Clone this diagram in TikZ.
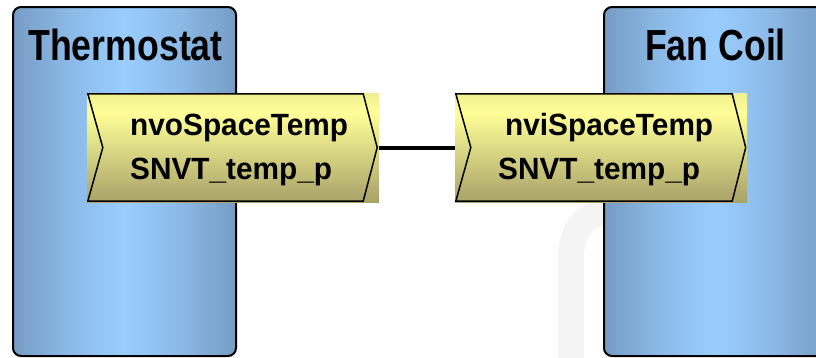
\documentclass[tikz,border=0pt]{standalone}
\usepackage{fontspec}
\setmainfont{Liberation Sans}
\newfontfamily\headfont[FakeStretch=0.82]{Liberation Sans}
\newfontfamily\tagfont[FakeStretch=0.97]{Liberation Sans}
\usetikzlibrary{calc}

% steel-blue column: dark edges, light centre
\definecolor{coldark}{RGB}{90,120,150}
\definecolor{colmid}{RGB}{110,145,182}
\definecolor{colhi}{RGB}{140,186,232}
\definecolor{collight}{RGB}{153,206,255}
\pgfdeclarehorizontalshading{columnshade}{100bp}{%
  color(0bp)=(coldark); color(20bp)=(colmid); color(38bp)=(colhi);
  color(50bp)=(collight); color(62bp)=(colhi); color(80bp)=(colmid);
  color(100bp)=(coldark)}

% olive/yellow network-variable box, brightest a third from the top
\definecolor{ylbottom}{RGB}{128,122,78}
\definecolor{ylmid}{RGB}{178,172,110}
\definecolor{ylbright}{RGB}{255,255,152}
\definecolor{ylupper}{RGB}{228,225,138}
\definecolor{yltop}{RGB}{184,178,112}
\pgfdeclareverticalshading{tagshade}{100bp}{%
  color(0bp)=(ylbottom); color(30bp)=(ylmid); color(66bp)=(ylbright);
  color(82bp)=(ylupper); color(100bp)=(yltop)}

\definecolor{watermark}{RGB}{244,244,244}

\tikzset{
  column/.style={draw=black, line width=2pt, rounded corners=8pt,
    shading=columnshade, minimum width=223pt, minimum height=349pt,
    inner sep=0pt},
  heading/.style={font=\headfont\bfseries\fontsize{43.5}{48}\selectfont,
    anchor=base, inner sep=0pt},
  nvbox/.style={shading=tagshade, minimum width=292pt, minimum height=109pt,
    inner sep=0pt},
  nvoutline/.style={draw=black, line width=1.5pt, line join=miter},
  nvtext/.style={font=\tagfont\bfseries\fontsize{30.7}{36}\selectfont,
    anchor=base west, inner sep=0pt},
  binding/.style={draw=black, line width=4pt}
}

\begin{document}
\begin{tikzpicture}[x=1pt,y=-1pt]
  \useasboundingbox (0,0) rectangle (816,357);
  \clip (0,0) rectangle (816,357);

  % faint background mark
  \draw[watermark, line width=26pt]
    (571,370) -- (571,258) .. controls (571,228) and (586,213) .. (612,211);

  % device columns
  \node[column] (thermo) at (124.5,181.5) {};
  \node[column] (fancoil) at (715.5,181.5) {};
  \node[heading] (thermolbl) at (125.5,60.5) {Thermostat};
  \node[heading] (fanlbl) at (715.5,60.5) {Fan Coil};

  % network variable boxes
  \node[nvbox] (lbox) at (233,147.5) {};
  \node[nvbox] (rbox) at (601,147.5) {};

  \draw[nvoutline]
    ([shift={(1,1)}]lbox.north west) -- ([shift={(-16,1)}]lbox.north east)
    -- ([shift={(-2,0)}]lbox.east) -- ([shift={(-16,-1)}]lbox.south east)
    -- ([shift={(1,-1)}]lbox.south west) -- ([shift={(16,0)}]lbox.west)
    -- cycle;
  \draw[nvoutline]
    ([shift={(1,1)}]rbox.north west) -- ([shift={(-15,1)}]rbox.north east)
    -- ([shift={(-1.5,0)}]rbox.east) -- ([shift={(-15,-1)}]rbox.south east)
    -- ([shift={(1,-1)}]rbox.south west) -- ([shift={(16,0)}]rbox.west)
    -- cycle;

  \node[nvtext] (nvoname) at (130,135) {nvoSpaceTemp};
  \node[nvtext] (nvotype) at (130,179.5) {SNVT\_temp\_p};
  \node[nvtext] (nviname) at (505,135) {nviSpaceTemp};
  \node[nvtext] (nvitype) at (498,179.5) {SNVT\_temp\_p};

  % binding between output and input
  \draw[binding] (lbox.east) -- (rbox.west);
\end{tikzpicture}
\end{document}
